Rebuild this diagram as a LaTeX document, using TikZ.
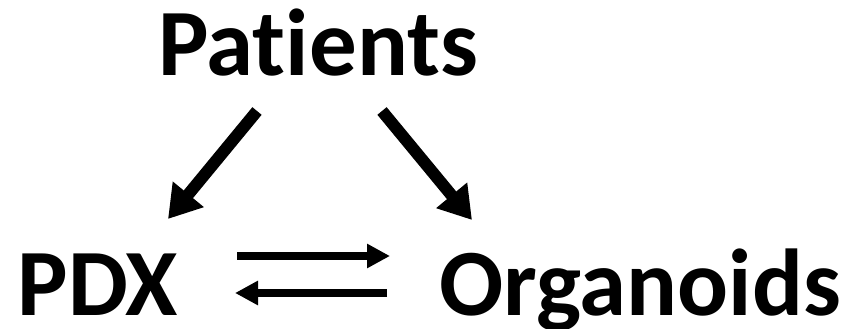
\documentclass[tikz,border=0pt]{standalone}
\usepackage{fontspec}
\setmainfont[Ligatures=NoCommon]{Carlito}
\usetikzlibrary{arrows.meta}
\begin{document}
\begin{tikzpicture}[x=1pt,y=-1pt,
  lbl/.style={anchor=base,inner sep=0pt,font=\fontsize{95}{100}\selectfont\bfseries},
  diag/.style={line width=12pt,-{Triangle[length=32pt,width=38pt]}},
  horiz/.style={line width=8.5pt,-{Triangle[length=23pt,width=23pt]}}]
\useasboundingbox (0,0) rectangle (846,329);
\node[lbl] (pat) at (318,76) {Patients};
\node[lbl] (pdx) at (98,315) {PDX};
\node[lbl] (org) at (640,315) {Organoids};
\coordinate (l1) at (257,111);
\coordinate (l2) at (168,219);
\coordinate (r1) at (382,111);
\coordinate (r2) at (472,220);
\coordinate (h1) at (237,256);
\coordinate (h2) at (390,256);
\coordinate (g1) at (387,293);
\coordinate (g2) at (235,293);
\draw[diag] (l1) -- (l2);
\draw[diag] (r1) -- (r2);
\draw[horiz] (h1) -- (h2);
\draw[horiz] (g1) -- (g2);
\end{tikzpicture}
\end{document}
